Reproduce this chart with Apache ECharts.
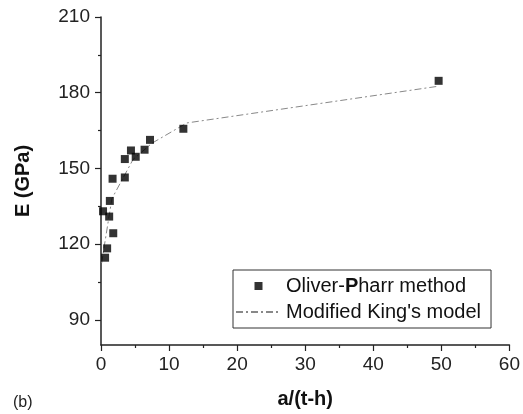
<!DOCTYPE html>
<html>
<head>
<meta charset="utf-8">
<script src="https://cdn.jsdelivr.net/npm/echarts@6/dist/echarts.min.js"></script>
<style>
html,body{margin:0;padding:0;background:#fff;}
#c{width:523px;height:414px;}
</style>
</head>
<body>
<div id="c"></div>
<script>
// Oliver-Pharr method measurements
var opX = [0.6, 0.9, 0.3, 1.2, 1.3, 1.8, 1.7, 3.5, 3.5, 4.4, 5.1, 6.4, 7.2, 12.1, 49.6];
var opY = [114.6, 118.3, 133.0, 130.9, 137.1, 124.3, 145.9, 146.4, 153.7, 157.1, 154.6, 157.4, 161.3, 165.7, 184.7];
// Modified King's model curve
var mX = [0.1, 0.5, 1.6, 4.7, 7.5, 12.6, 49.4];
var mY = [112.5, 119.5, 138.0, 153.5, 160.0, 168.0, 182.5];
// ticks
var yMajor = [90, 120, 150, 180, 210];
var yMinor = [105, 135, 165, 195];
var xTicks = [0, 10, 20, 30, 40, 50, 60];

var FONT = '"Liberation Sans", Arial, sans-serif';
var axisCol = '#222';

function pairs(xs, ys){ return xs.map(function(x,i){ return [x, ys[i]]; }); }

var chart = echarts.init(document.getElementById('c'));
chart.setOption({
  animation: false,
  backgroundColor: '#fff',
  grid: {left: 101, right: 13, top: 17, bottom: 68, containLabel: false},
  legend: {
    orient: 'vertical',
    left: 233, top: 270,
    padding: [6, 10, 6, 2],
    itemGap: 6,
    itemWidth: 45,
    itemHeight: 8,
    borderColor: '#333',
    borderWidth: 1,
    data: [
      {name: 'Oliver-Pharr method', icon: 'path://M0,0M45,8M18.5,0h8v8h-8z'},
      {name: "Modified King's model", itemStyle: {color: 'rgba(0,0,0,0)', borderWidth: 0}}
    ],
    formatter: function(name){ return name === 'Oliver-Pharr method' ? 'Oliver-{b|P}harr method' : name; },
    textStyle: {fontFamily: FONT, fontSize: 20, color: '#111',
      rich: {b: {fontFamily: FONT, fontSize: 20, fontWeight: 'bold', color: '#111'}}}
  },
  xAxis: {
    type: 'value', min: 0, max: 60, interval: 10,
    name: 'a/(t-h)', nameLocation: 'middle', nameGap: 44,
    nameTextStyle: {fontFamily: FONT, fontSize: 20, fontWeight: 'bold', color: '#111'},
    axisLine: {show: true, onZero: false, lineStyle: {color: axisCol, width: 1.5}},
    axisTick: {show: true, inside: false, length: 6, lineStyle: {color: axisCol, width: 1.2}},
    minorTick: {show: true, splitNumber: 2, length: 3, lineStyle: {color: axisCol, width: 1.2}},
    axisLabel: {fontFamily: FONT, fontSize: 19, color: '#222', margin: 10,
      formatter: function(v){ return xTicks.indexOf(v) >= 0 ? String(v) : ''; }},
    splitLine: {show: false}
  },
  yAxis: [{
    type: 'value', min: 80, max: 210,
    name: 'E (GPa)', nameLocation: 'middle', nameGap: 68,
    nameTextStyle: {fontFamily: FONT, fontSize: 20, fontWeight: 'bold', color: '#111'},
    axisLine: {show: true, onZero: false, lineStyle: {color: axisCol, width: 1.5}},
    axisTick: {show: true, length: 6, customValues: yMajor, lineStyle: {color: axisCol, width: 1.2}},
    axisLabel: {fontFamily: FONT, fontSize: 19, color: '#222', margin: 11, customValues: yMajor},
    splitLine: {show: false}
  }, {
    type: 'value', min: 80, max: 210, position: 'left',
    axisLine: {show: false},
    axisTick: {show: true, length: 3, customValues: yMinor, lineStyle: {color: axisCol, width: 1.2}},
    axisLabel: {show: false},
    splitLine: {show: false}
  }],
  series: [{
    name: "Modified King's model",
    type: 'line',
    data: pairs(mX, mY),
    symbol: 'none',
    lineStyle: {color: '#888', width: 1, type: [7, 3, 2, 3]},
    itemStyle: {color: '#888'},
    z: 2
  }, {
    name: 'Oliver-Pharr method',
    type: 'scatter',
    data: pairs(opX, opY),
    symbol: 'rect',
    symbolSize: 8,
    itemStyle: {color: '#000'},
    z: 3
  }],
  graphic: [{
    type: 'text', left: 13, top: 395,
    style: {text: '(b)', fontFamily: FONT, fontSize: 16, fill: '#222'}
  }]
});
</script>
</body>
</html>
